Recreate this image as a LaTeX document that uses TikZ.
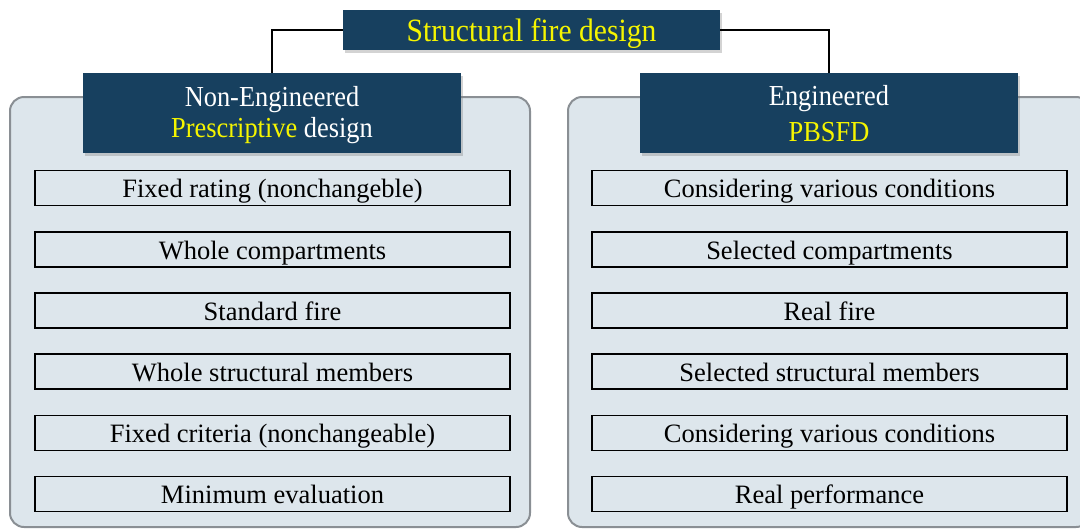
\documentclass[tikz,border=0pt]{standalone}
\usepackage{fontspec}
\setmainfont{Liberation Serif}
\newfontfamily\condfont[FakeStretch=0.91]{Liberation Serif}
\usetikzlibrary{shadows}
\definecolor{navy}{HTML}{17405F}
\definecolor{hiyellow}{HTML}{F5F500}
\definecolor{panelfill}{HTML}{DDE6EC}
\definecolor{panelline}{HTML}{8A8F94}
\begin{document}
\begin{tikzpicture}[x=1pt,y=-1pt,
  headbox/.style={fill=navy, draw=none, inner sep=0pt,
    drop shadow={opacity=0.35, shadow xshift=2pt, shadow yshift=-3pt}},
  headtext/.style={anchor=base, inner sep=0pt, text=white,
    font=\condfont\fontsize{29}{30}\selectfont},
  panel/.style={fill=panelfill, draw=panelline, line width=2pt, rounded corners=14pt},
  itembox/.style={draw=black, line width=1.6pt, minimum width=475pt, minimum height=35pt,
    inner sep=0pt, font=\fontsize{26.5}{30}\selectfont,
    text height=19.5pt, text depth=0pt},
  link/.style={draw=black, line width=2.2pt}]
\useasboundingbox (0,0) rectangle (1080,528);

% side panels
\path[panel] (10,97) rectangle (530,527);
\path[panel] (568,97) rectangle (1090,527);

% title
\node[headbox, minimum width=377pt, minimum height=40pt,
  font=\condfont\fontsize{32.5}{36}\selectfont, text=hiyellow,
  text height=22pt, text depth=0pt]
  (title) at (531.5,30) {Structural fire design};

% column headers
\node[headbox, minimum width=378pt, minimum height=80pt] (left) at (272,113) {};
\node[headbox, minimum width=378pt, minimum height=80pt] (right) at (829,113) {};
\node[headtext] (left1) at (272,106) {Non-Engineered};
\node[headtext] (left2) at (272,137) {\textcolor{hiyellow}{Prescriptive} design};
\node[headtext] (right1) at (829,105.5) {Engineered};
\node[headtext, text=hiyellow] (right2) at (829,141) {PBSFD};

% connectors
\draw[link] (title.west) -| (left.north);
\draw[link] (title.east) -| (right.north);

% item boxes, left column then right column
\foreach \name/\yy/\txt in {l1/188/{Fixed rating (nonchangeble)},
    l2/249.5/{Whole compartments}, l3/310.5/{Standard fire},
    l4/371.5/{Whole structural members}, l5/433/{Fixed criteria (nonchangeable)},
    l6/494/{Minimum evaluation}}
  \node[itembox] (\name) at (272.5,\yy) {\txt};
\foreach \name/\yy/\txt in {r1/188/{Considering various conditions},
    r2/249.5/{Selected compartments}, r3/310.5/{Real fire},
    r4/371.5/{Selected structural members}, r5/433/{Considering various conditions},
    r6/494/{Real performance}}
  \node[itembox] (\name) at (829.5,\yy) {\txt};
\end{tikzpicture}
\end{document}
